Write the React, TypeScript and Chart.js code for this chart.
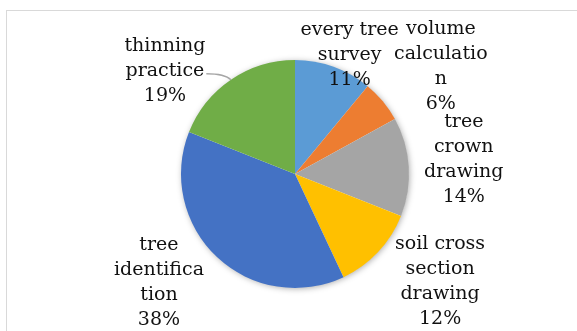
import React, { useEffect, useRef } from "react";
import { Chart, registerables } from "chart.js";

Chart.register(...registerables);

// Share of training time per activity (%)
const activities = [
  "every tree survey",
  "volume calculation",
  "tree crown drawing",
  "soil cross section drawing",
  "tree identification",
  "thinning practice",
];
const shares = [11, 6, 14, 12, 38, 19];
const sliceColors = ["#5B9BD5", "#ED7D31", "#A5A5A5", "#FFC000", "#4472C4", "#70AD47"];

// Wrapped label lines (category text as it breaks in the label box)
const labelLines = [
  ["every tree", "survey"],
  ["volume", "calculatio", "n"],
  ["tree", "crown", "drawing"],
  ["soil cross", "section", "drawing"],
  ["tree", "identifica", "tion"],
  ["thinning", "practice"],
];
// Label box offsets from the outer middle of each slice
const labelOffsets = [
  [16, -12],
  [58, -35],
  [55, -7],
  [62, 30],
  [-58, 25],
  [-66, -9],
];
const leaderLabels = [5];

const FONT = '19px "DejaVu Serif"';
const LINE_H = 25;

const pieShadow = {
  id: "pieShadow",
  beforeDatasetsDraw(chart: any) {
    const arc = chart.getDatasetMeta(0).data[0];
    if (!arc) return;
    const { x, y, outerRadius } = arc.getProps(["x", "y", "outerRadius"], true);
    const ctx = chart.ctx;
    ctx.save();
    ctx.shadowColor = "rgba(0,0,0,0.35)";
    ctx.shadowBlur = 6;
    ctx.shadowOffsetX = 1;
    ctx.shadowOffsetY = 1;
    ctx.fillStyle = "#ffffff";
    ctx.beginPath();
    ctx.arc(x, y, outerRadius - 0.5, 0, Math.PI * 2);
    ctx.fill();
    ctx.restore();
  },
};

const sliceLabels = {
  id: "sliceLabels",
  afterDatasetsDraw(chart: any) {
    const ctx = chart.ctx;
    const meta = chart.getDatasetMeta(0);
    ctx.save();
    ctx.font = FONT;
    ctx.fillStyle = "#111111";
    ctx.textAlign = "center";
    ctx.textBaseline = "middle";
    meta.data.forEach((arc: any, i: number) => {
      const { x, y, startAngle, endAngle, outerRadius } = arc.getProps(
        ["x", "y", "startAngle", "endAngle", "outerRadius"],
        true
      );
      const mid = (startAngle + endAngle) / 2;
      const ex = x + Math.cos(mid) * outerRadius;
      const ey = y + Math.sin(mid) * outerRadius;
      const lines = [...labelLines[i], shares[i] + "%"];
      const cx = ex + labelOffsets[i][0];
      const cy = ey + labelOffsets[i][1];
      const top = cy - ((lines.length - 1) * LINE_H) / 2;
      lines.forEach((t, k) => ctx.fillText(t, cx, top + k * LINE_H));
      if (leaderLabels.includes(i)) {
        const k = lines.length - 2;
        const w = ctx.measureText(lines[k]).width;
        const sx = cx + w / 2 + 2;
        const sy = top + k * LINE_H + 3;
        ctx.strokeStyle = "#A6A6A6";
        ctx.lineWidth = 1.5;
        ctx.beginPath();
        ctx.moveTo(sx, sy);
        ctx.quadraticCurveTo(ex - 6, sy, ex, ey);
        ctx.stroke();
      }
    });
    ctx.restore();
  },
};

export default function App() {
  const ref = useRef<HTMLCanvasElement>(null);

  useEffect(() => {
    document.body.style.margin = "0";
    const chart = new Chart(ref.current!, {
      type: "pie",
      data: {
        labels: activities,
        datasets: [
          {
            data: shares,
            backgroundColor: sliceColors,
            borderWidth: 0,
          },
        ],
      },
      options: {
        animation: false,
        responsive: false,
        layout: { padding: { left: 181, right: 168, top: 60, bottom: 43 } },
        plugins: {
          legend: { display: false },
          tooltip: { enabled: false },
        },
      },
      plugins: [pieShadow, sliceLabels],
    });
    return () => chart.destroy();
  }, []);

  return (
    <div style={{ position: "relative", width: 577, height: 331, overflow: "hidden", background: "#fff" }}>
      <div
        style={{
          position: "absolute",
          left: 6,
          top: 10,
          width: 600,
          height: 360,
          border: "1px solid #D9D9D9",
        }}
      />
      <canvas ref={ref} width={577} height={331} style={{ position: "absolute", left: 0, top: 0 }} />
    </div>
  );
}
